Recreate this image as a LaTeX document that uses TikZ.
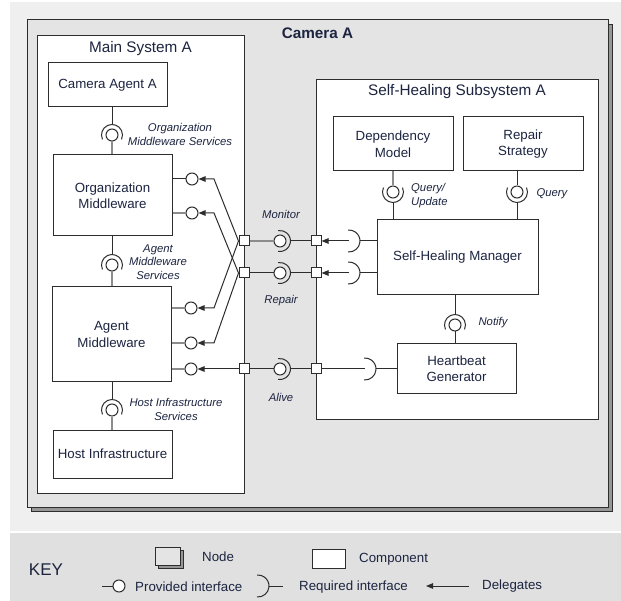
\documentclass[tikz,border=0pt]{standalone}
\usepackage{fontspec}
\setmainfont{Liberation Sans}
\usetikzlibrary{arrows.meta,calc}

\definecolor{txt}{RGB}{28,36,64}
\definecolor{ink}{RGB}{45,45,45}
\definecolor{stemgray}{RGB}{140,140,140}
\definecolor{panel}{RGB}{239,239,239}
\definecolor{nodefill}{RGB}{228,228,228}
\definecolor{keyband}{RGB}{224,224,224}
\definecolor{shadowgray}{RGB}{150,150,150}

\newcommand\compfont{\fontsize{13.3}{16.5}\selectfont}
\newcommand\lblfont{\fontsize{11.3}{14}\selectfont\itshape}
\newcommand\titlefont{\fontsize{15.3}{18}\selectfont}

% socket arc: #1 centre node, #2 start angle, #3 end angle, #4 radius
\newcommand\sockarc[4]{\draw[sock] (#1.center) ++(#2:#4) arc[start angle=#2, end angle=#3, radius=#4];}
\newcommand\reqarc[1]{\draw[sock] (#1) ++(-95:11pt) arc[start angle=-95, end angle=95, radius=11pt];}

\tikzset{
  comp/.style={draw=ink, line width=1pt, fill=white, font=\compfont, text=txt, align=center, inner sep=0pt},
  port/.style={draw=ink, line width=1pt, fill=white, minimum size=10pt, inner sep=0pt},
  ball/.style={circle, draw=ink, line width=1pt, fill=white, minimum size=12pt, inner sep=0pt},
  wire/.style={draw=ink, line width=1pt},
  stem/.style={draw=stemgray, line width=1.1pt},
  deleg/.style={draw=ink, line width=1pt, -{Triangle[length=7pt,width=5.5pt]}},
  sock/.style={draw=ink, line width=1pt},
  lbl/.style={font=\lblfont, text=txt, align=center, inner sep=0pt},
  title/.style={font=\titlefont, text=txt, inner sep=0pt},
  keytext/.style={font=\compfont, text=txt, inner sep=0pt, anchor=west},
}

\begin{document}
\begin{tikzpicture}[x=1pt,y=-1pt]
\useasboundingbox (0,0) rectangle (621,601);
\fill[white] (0,0) rectangle (621,601);
\fill[panel] (10,2) rectangle (621,531);
\fill[keyband] (10,533) rectangle (621,601);

% ---------- Camera A (node with shadow) ----------
\fill[shadowgray, draw=ink, line width=0.6pt] (31,24) rectangle (612,511);
\draw[ink, line width=1pt, fill=nodefill] (27,20) rectangle (608,507);
\node[title, font=\titlefont\bfseries] (camA) at (317.5,33) {Camera A};

% ---------- Main System A ----------
\draw[ink, line width=1pt, fill=white] (37,36) rectangle (244,493);
\node[title] (msA) at (140.5,49) {Main System A};

\node[comp, minimum width=119pt, minimum height=44pt] (cam) at (107.5,85) {Camera Agent A};
\node[comp, minimum width=119pt, minimum height=81pt] (org) at (112.5,195.5) {Organization\\Middleware};
\node[comp, minimum width=119pt, minimum height=95pt] (agent) at (111.5,334.5) {Agent\\Middleware};
\node[comp, minimum width=119pt, minimum height=48pt] (host) at (112.5,454) {Host Infrastructure};

% ---------- Self-Healing Subsystem A ----------
\draw[ink, line width=1pt, fill=white] (316,80) rectangle (598,419);
\node[title] (shA) at (457,92) {Self-Healing Subsystem A};

\node[comp, minimum width=120pt, minimum height=54pt] (dep) at (393,144) {Dependency\\Model};
\node[comp, minimum width=120pt, minimum height=54pt] (rep) at (523,144) {Repair\\Strategy};
\node[comp, minimum width=161pt, minimum height=75pt] (shm) at (457.5,257.5) {Self-Healing Manager};
\node[comp, minimum width=119pt, minimum height=49pt] (hb) at (456.5,368.5) {Heartbeat\\Generator};

% ---------- ball-and-socket connectors inside Main System A ----------
\node[ball] (bCA) at (112,135) {};
\draw[stem] (bCA.south) -- (bCA |- org.north);
\draw[wire] (bCA |- cam.south) -- ($(bCA)+(0,-10.5)$);
\sockarc{bCA}{205}{-25}{10.5pt}
\node[lbl] (lCA) at (180,134) {Organization\\Middleware Services};

\node[ball] (bAM) at (112,265) {};
\draw[stem] (bAM.south) -- (bAM |- agent.north);
\draw[wire] (bAM |- org.south) -- ($(bAM)+(0,-10.5)$);
\sockarc{bAM}{205}{-25}{10.5pt}
\node[lbl, font=\fontsize{11.3}{13.8}\selectfont\itshape] (lAM) at (158,262) {Agent\\Middleware\\Services};

\node[ball] (bHI) at (112,410) {};
\draw[stem] (bHI.south) -- (bHI |- host.north);
\draw[wire] (bHI |- agent.south) -- ($(bHI)+(0,-10.5)$);
\sockarc{bHI}{205}{-25}{10.5pt}
\node[lbl] (lHI) at (176,409) {Host Infrastructure\\Services};

% provided interfaces of the middleware components
\node[ball] (oi1) at (192,179) {};
\node[ball] (oi2) at (192,213) {};
\node[ball] (ai1) at (191,308) {};
\node[ball] (ai2) at (191,343) {};
\node[ball] (ai3) at (191,369) {};
\draw[wire] (oi1 -| org.east) -- (oi1.west);
\draw[stem] (oi2 -| org.east) -- (oi2.west);
\draw[stem] (ai1 -| agent.east) -- (ai1.west);
\draw[stem] (ai2 -| agent.east) -- (ai2.west);
\draw[stem] (ai3 -| agent.east) -- (ai3.west);

% ---------- ports ----------
\node[port] (pMonL) at (244,241) {};
\node[port] (pRepL) at (244,273) {};
\node[port] (pAlvL) at (244,369) {};
\node[port] (pMonR) at (316,241) {};
\node[port] (pRepR) at (316,273) {};
\node[port] (pAlvR) at (316,369) {};

% delegations to the middleware interfaces
\draw[deleg] (pMonL.west) -- (214,179) -- (oi1.east);
\draw[deleg] (pRepL.west) -- (214,213) -- (oi2.east);
\draw[deleg] (pMonL.west) -- (214,308) -- (ai1.east);
\draw[deleg] (pRepL.west) -- (214,343) -- (ai2.east);
\draw[deleg] (pAlvL.west) -- (ai3.east);

% ---------- Monitor / Repair / Alive ----------
\node[ball] (bMon) at (280,241) {};
\node[ball] (bRep) at (280,273) {};
\node[ball] (bAlv) at (280,369) {};
\draw[stem] (pMonL.east) -- (bMon.west);
\draw[wire] (pRepL.east) -- (bRep.west);
\draw[wire] (pAlvL.east) -- (bAlv.west);
\sockarc{bMon}{-100}{100}{10.5pt}
\sockarc{bRep}{-100}{100}{10.5pt}
\sockarc{bAlv}{-100}{100}{10.5pt}
\draw[wire] ($(bMon)+(10.5,0)$) -- (pMonR.west);
\draw[wire] ($(bRep)+(10.5,0)$) -- (pRepR.west);
\draw[wire] ($(bAlv)+(10.5,0)$) -- (pAlvR.west);
\node[lbl] (lMon) at (281,214) {Monitor};
\node[lbl] (lRep) at (281,301) {Repair};
\node[lbl] (lAlv) at (281,397) {Alive};

% required interfaces of the manager and the heartbeat generator
\coordinate (rqMon) at (349,241);
\coordinate (rqRep) at (349,273);
\coordinate (rqAlv) at (365,369);
\reqarc{rqMon}
\reqarc{rqRep}
\reqarc{rqAlv}
\draw[wire] ($(rqMon)+(11,0)$) -- (shm.west |- rqMon);
\draw[wire] ($(rqRep)+(11,0)$) -- (shm.west |- rqRep);
\draw[wire] ($(rqAlv)+(11,0)$) -- (hb.west |- rqAlv);
\draw[deleg] (rqMon) -- (pMonR.east);
\draw[deleg] (rqRep) -- (pRepR.east);
\draw[wire] (pAlvR.east) -- (rqAlv);

% ---------- Query / Update, Query, Notify ----------
\node[ball] (bDM) at (393,192) {};
\draw[stem] (bDM |- dep.south) -- (bDM.north);
\draw[wire] ($(bDM)+(0,10.5)$) -- (bDM |- shm.north);
\sockarc{bDM}{155}{385}{10.5pt}
\node[lbl, align=left, anchor=west] (lDM) at (411,196) {Query/\\Update};

\node[ball] (bRS) at (517,192) {};
\draw[wire] (bRS |- rep.south) -- (bRS.north);
\draw[wire] ($(bRS)+(0,10.5)$) -- (bRS |- shm.north);
\sockarc{bRS}{155}{385}{10.5pt}
\node[lbl] (lRS) at (552,194) {Query};

\node[ball] (bNT) at (455,325) {};
\draw[wire] (bNT.south) -- (bNT |- hb.north);
\draw[wire] (bNT |- shm.south) -- ($(bNT)+(0,-10.5)$);
\sockarc{bNT}{205}{-25}{10.5pt}
\node[lbl] (lNT) at (493,323) {Notify};

% ---------- key ----------
\node[text=txt, font=\fontsize{17}{20}\selectfont, inner sep=0pt] (key) at (46,570) {KEY};

\fill[shadowgray, draw=ink, line width=0.6pt] (158,550) rectangle (183,568);
\draw[ink, line width=1pt, fill=nodefill] (155,547) rectangle (180,565);
\node[keytext] (kNode) at (202,557) {Node};

\node[draw=ink, line width=1pt, fill=white, minimum width=33pt, minimum height=19pt, inner sep=0pt] (kComp) at (328.5,558.5) {};
\node[keytext] (kCompT) at (359,559) {Component};

\coordinate (kp) at (102,586);
\node[ball] (kBall) at (119,586) {};
\draw[wire] (kp) -- (kBall.west);
\node[keytext] (kProv) at (135,587) {Provided interface};

\coordinate (kr) at (258,586);
\coordinate (kr2) at (283,586);
\reqarc{kr}
\draw[wire] ($(kr)+(11,0)$) -- (kr2);
\node[keytext] (kReq) at (299,587) {Required interface};

\coordinate (kd1) at (469,586);
\coordinate (kd2) at (426,586);
\draw[deleg] (kd1) -- (kd2);
\node[keytext] (kDel) at (482,586) {Delegates};
\end{tikzpicture}
\end{document}
